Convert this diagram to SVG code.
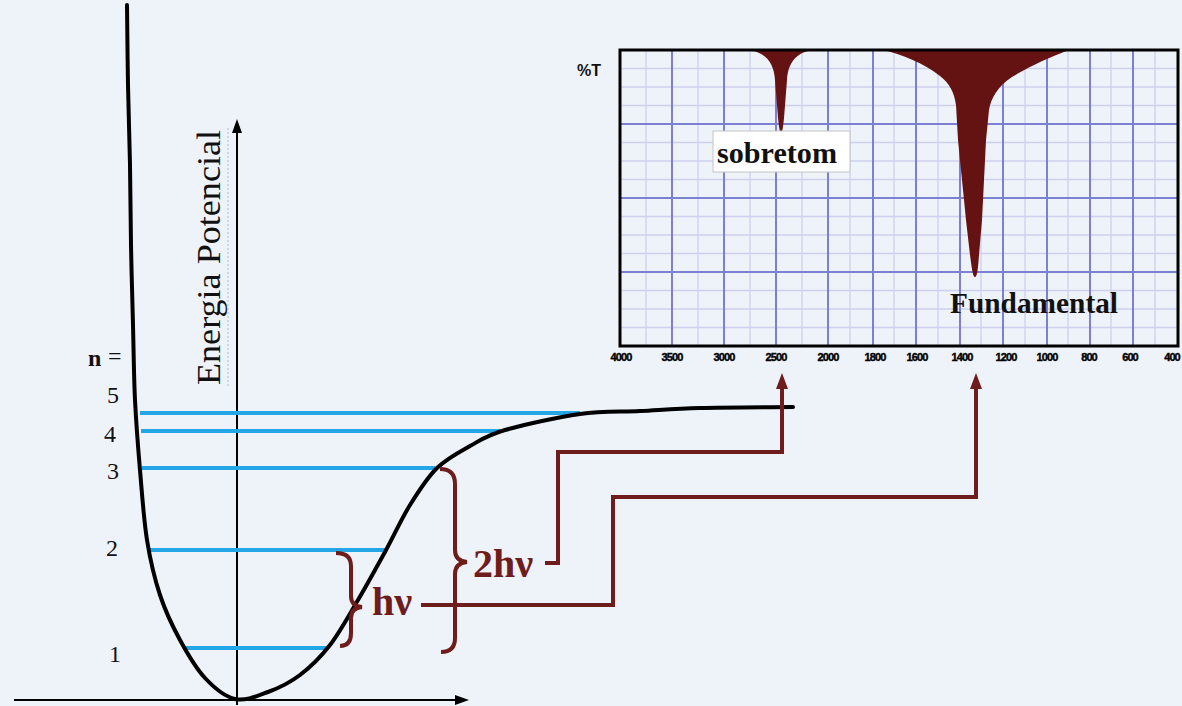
<svg xmlns="http://www.w3.org/2000/svg" width="1182" height="706" viewBox="0 0 1182 706">
<defs>
<style>
.bg{fill:#eef3f9}
.curve{fill:none;stroke:#000;stroke-width:4;stroke-linejoin:round;stroke-linecap:round}
.axis{fill:none;stroke:#000;stroke-width:2}
.lvl{stroke:#22a6e6;stroke-width:4;fill:none}
.num{font-family:"Liberation Serif",serif;font-size:24px;fill:#111}
.red{fill:none;stroke:#6e1c1c;stroke-width:4;stroke-linejoin:miter}
.redtxt{font-family:"Liberation Serif",serif;font-weight:bold;fill:#6e1c1c}
.gmaj{stroke:#7b80d2;stroke-width:2}
.gmin{stroke:#cdd0ee;stroke-width:1.3}
.peak{fill:#641212}
.lbl{font-family:"Liberation Serif",serif;font-weight:bold;font-size:29px;fill:#111}
.tick{font-family:"Liberation Sans",sans-serif;font-weight:bold;font-size:11px;fill:#000;text-anchor:middle;letter-spacing:-0.9px;stroke:#000;stroke-width:0.4}
</style>
<marker id="arrK" viewBox="0 0 14 10" refX="1" refY="5" markerWidth="14" markerHeight="10" markerUnits="userSpaceOnUse" orient="auto"><path d="M0,0 L14,5 L0,10 Z" fill="#000"/></marker>
<marker id="arrR" viewBox="0 0 16 12" refX="1" refY="6" markerWidth="16" markerHeight="12" markerUnits="userSpaceOnUse" orient="auto"><path d="M0,0 L16,6 L0,12 Z" fill="#6e1c1c"/></marker>
</defs>
<rect class="bg" x="0" y="0" width="1182" height="706"/>

<g id="potential-diagram">
  <line class="axis" x1="237" y1="705" x2="237" y2="132" marker-end="url(#arrK)"/>
  <line class="axis" x1="14" y1="700" x2="456" y2="700" marker-end="url(#arrK)"/>
  <line x1="228" y1="128" x2="228" y2="386" stroke="#a9bbdc" stroke-width="1" stroke-dasharray="2 2"/>
  <text font-family="'Liberation Serif',serif" font-size="33" fill="#111" transform="translate(220,385) rotate(-90)" textLength="255" lengthAdjust="spacingAndGlyphs">Energia Potencial</text>
  <g id="levels">
    <line class="lvl" x1="140" y1="413" x2="580" y2="413"/>
    <line class="lvl" x1="141" y1="431" x2="503" y2="431"/>
    <line class="lvl" x1="142" y1="468" x2="435" y2="468"/>
    <line class="lvl" x1="149" y1="550" x2="385" y2="550"/>
    <line class="lvl" x1="184" y1="648" x2="328" y2="648"/>
  </g>
  <path class="curve" d="M127,5 C127.2,18.3 127.5,58.3 128,85 C128.5,111.7 129.5,138.3 130,165 C130.5,191.7 130.5,218.3 131,245 C131.5,271.7 132.3,299.2 133,325 C133.7,350.8 133.8,375.8 135,400 C136.2,424.2 138,446.7 140,470 C142,493.3 143.7,519.2 147,540 C150.3,560.8 154.5,578.3 160,595 C165.5,611.7 172.5,626.2 180,640 C187.5,653.8 195.8,668.2 205,678 C214.2,687.8 224.5,696.7 235,699 C245.5,701.3 257.2,696 268,692 C278.8,688 289.7,682.8 300,675 C310.3,667.2 320.3,657.5 330,645 C339.7,632.5 348.8,615.5 358,600 C367.2,584.5 376.3,567.8 385,552 C393.7,536.2 401.3,519 410,505 C418.7,491 427,477.8 437,468 C447,458.2 458.7,452.3 470,446 C481.3,439.7 486.7,435.3 505,430 C523.3,424.7 557.5,417.2 580,414 C602.5,410.8 620,412 640,411 C660,410 674.5,408.7 700,408 C725.5,407.3 777.5,407.2 793,407"/>
  <g id="level-labels">
    <text class="num" x="88" y="366" font-weight="bold">n</text>
    <text class="num" x="108" y="364">=</text>
    <text class="num" x="107" y="403">5</text>
    <text class="num" x="104" y="442">4</text>
    <text class="num" x="107" y="479">3</text>
    <text class="num" x="106" y="556">2</text>
    <text class="num" x="109" y="662">1</text>
  </g>
</g>

<g id="brace-hv">
  <path class="red" d="M336,553 Q351,553 351,566 L351,596 Q351,606 362,607 Q351,608 351,618 L351,633 Q351,646 340,646"/>
  <text class="redtxt" x="372" y="615" font-size="40">hν</text>
</g>
<g id="brace-2hv">
  <path class="red" d="M440,469 Q455,469 455,484 L455,550 Q455,561 467,562 Q455,563 455,574 L455,638 Q455,652 441,652"/>
  <text class="redtxt" x="473" y="577" font-size="40">2hν</text>
</g>

<g id="spectrum">
  <g id="grid">
    <g class="gmin">
      <line x1="646" y1="50" x2="646" y2="346"/><line x1="698" y1="50" x2="698" y2="346"/><line x1="750" y1="50" x2="750" y2="346"/><line x1="802" y1="50" x2="802" y2="346"/><line x1="850" y1="50" x2="850" y2="346"/><line x1="894" y1="50" x2="894" y2="346"/><line x1="938" y1="50" x2="938" y2="346"/><line x1="981" y1="50" x2="981" y2="346"/><line x1="1025" y1="50" x2="1025" y2="346"/><line x1="1068" y1="50" x2="1068" y2="346"/><line x1="1111" y1="50" x2="1111" y2="346"/><line x1="1155" y1="50" x2="1155" y2="346"/>
      <line x1="620" y1="68.5" x2="1178" y2="68.5"/><line x1="620" y1="87" x2="1178" y2="87"/><line x1="620" y1="105.5" x2="1178" y2="105.5"/><line x1="620" y1="142.5" x2="1178" y2="142.5"/><line x1="620" y1="161" x2="1178" y2="161"/><line x1="620" y1="179.5" x2="1178" y2="179.5"/><line x1="620" y1="216.5" x2="1178" y2="216.5"/><line x1="620" y1="235" x2="1178" y2="235"/><line x1="620" y1="253.5" x2="1178" y2="253.5"/><line x1="620" y1="290.5" x2="1178" y2="290.5"/><line x1="620" y1="309" x2="1178" y2="309"/><line x1="620" y1="327.5" x2="1178" y2="327.5"/>
    </g>
    <g class="gmaj">
      <line x1="672" y1="50" x2="672" y2="346"/><line x1="724" y1="50" x2="724" y2="346"/><line x1="776" y1="50" x2="776" y2="346"/><line x1="828" y1="50" x2="828" y2="346"/><line x1="873" y1="50" x2="873" y2="346"/><line x1="916" y1="50" x2="916" y2="346"/><line x1="960" y1="50" x2="960" y2="346"/><line x1="1003" y1="50" x2="1003" y2="346"/><line x1="1047" y1="50" x2="1047" y2="346"/><line x1="1090" y1="50" x2="1090" y2="346"/><line x1="1133" y1="50" x2="1133" y2="346"/>
      <line x1="620" y1="124" x2="1178" y2="124"/><line x1="620" y1="198" x2="1178" y2="198"/><line x1="620" y1="272" x2="1178" y2="272"/>
    </g>
  </g>
  <path class="peak" d="M748,50 C765,52 774,62 775,80 L778,118 C779,128 780,133 781,133 C782,133 783,128 784,118 L787,80 C788,62 797,52 813,50 Z"/>
  <path class="peak" d="M882,50 C900,53 925,64 940,76 C950,84 954,92 956,105 L958,140 L962,180 L966,220 L970,255 C972,270 973,277 975,277 C977,277 978,270 979,255 L982,220 L984,180 L986,140 L989,110 C991,98 998,86 1012,77 C1030,66 1050,57 1069,50 Z"/>
  <rect x="620" y="50" width="558" height="296" fill="none" stroke="#000" stroke-width="3"/>
  <text x="577" y="76" font-family="'Liberation Sans',sans-serif" font-weight="bold" font-size="16" fill="#111">%T</text>
  <g id="sobretom">
    <rect x="713" y="131" width="137" height="41" fill="#ffffff" stroke="#c4c4c4" stroke-width="1"/>
    <text class="lbl" x="717" y="163" textLength="120" lengthAdjust="spacingAndGlyphs">sobretom</text>
  </g>
  <g id="fundamental">
    <text class="lbl" x="950" y="313" textLength="168" lengthAdjust="spacingAndGlyphs">Fundamental</text>
  </g>
  <g id="ticks">
    <text class="tick" x="621" y="361">4000</text>
    <text class="tick" x="672" y="361">3500</text>
    <text class="tick" x="724" y="361">3000</text>
    <text class="tick" x="776" y="361">2500</text>
    <text class="tick" x="828" y="361">2000</text>
    <text class="tick" x="875" y="361">1800</text>
    <text class="tick" x="917" y="361">1600</text>
    <text class="tick" x="962" y="361">1400</text>
    <text class="tick" x="1006" y="361">1200</text>
    <text class="tick" x="1047" y="361">1000</text>
    <text class="tick" x="1089" y="361">800</text>
    <text class="tick" x="1130" y="361">600</text>
    <text class="tick" x="1172" y="361">400</text>
  </g>
</g>

<g id="connectors">
  <path class="red" d="M545,563 L558,563 L558,452 L782,452 L782,388" marker-end="url(#arrR)"/>
  <path class="red" d="M421,605 L613,605 L613,497 L976,497 L976,388" marker-end="url(#arrR)"/>
</g>
</svg>
